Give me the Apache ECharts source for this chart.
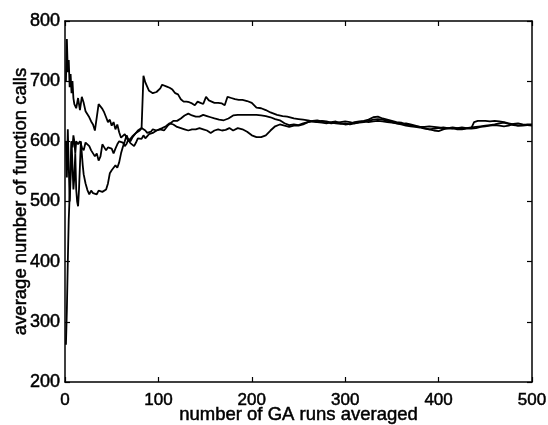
<!DOCTYPE html>
<html>
<head>
<meta charset="utf-8">
<script src="https://cdn.jsdelivr.net/npm/echarts@6/dist/echarts.min.js"></script>
<style>
html,body{margin:0;padding:0;background:#fff;}
#chart{width:548px;height:425px;}
</style>
</head>
<body>
<div id="chart"></div>
<script>
// Axis ticks
var xTicks = [0, 100, 200, 300, 400, 500];
var yTicks = [200, 300, 400, 500, 600, 700, 800];
var xTitle = 'number of GA runs averaged';
var yTitle = 'average number of function calls';

// Run 1: high start, jump near run 84
var runA = [[1,700],[2,770],[3,715],[4,735],[5,690],[6,712],[7,680],[8,700],[9,672],[10,662],[12,655],[14,672],[16,652],[18,674],[20,664],[22,650],[24,647],[26,640],[28,633],[30,628],[32,618],[34,640],[36,662],[38,660],[40,654],[42,648],[44,640],[46,632],[48,636],[50,626],[52,632],[54,620],[56,628],[58,615],[60,606],[62,604],[64,612],[66,606],[68,600],[70,604],[72,608],[74,605],[76,614],[78,612],[80,618],[82,622],[83,621],[84,709],[86,698],[88,691],[90,684],[92,681],[94,680],[96,680],[98,682],[100,680],[102,688],[104,694],[106,692],[109,691],[112,689],[115,686],[118,680],[121,678],[124,670],[127,666],[130,666],[133,665],[136,663],[139,660],[142,666],[145,664],[148,662],[151,674],[154,668],[157,666],[160,664],[164,664],[168,663],[171,660],[174,674],[178,672],[182,670],[186,669],[190,669],[195,667],[200,664],[205,656],[210,655],[215,652],[220,648],[227,644],[233,642],[238,641],[245,638],[250,637],[255,636],[260,635],[265,633],[270,632],[275,631],[280,630],[285,632],[290,633],[295,630],[300,628],[305,629],[310,632],[315,633],[320,634],[325,636],[330,640],[335,641],[340,638],[345,636],[350,634],[355,632],[360,631],[365,628],[370,627],[375,625],[380,624],[385,624],[390,625],[395,624],[400,623],[405,622],[410,621],[415,622],[420,620],[425,620],[430,621],[435,622],[438,632],[442,634],[446,634],[450,634],[455,633],[460,634],[465,633],[470,632],[475,630],[480,628],[485,626],[490,626],[495,627],[500,627]];

// Run 2: low start, middle band
var runB = [[1,262],[2,320],[3,400],[4,470],[5,510],[6,560],[7,600],[8,590],[9,610],[10,600],[11,580],[12,600],[14,595],[16,600],[18,590],[20,585],[22,598],[24,600],[26,592],[28,585],[30,582],[32,575],[34,580],[36,568],[38,575],[40,595],[42,590],[44,585],[46,590],[48,593],[50,588],[52,580],[54,588],[56,595],[58,600],[60,602],[62,598],[64,592],[66,596],[68,604],[70,600],[72,606],[74,610],[76,612],[78,618],[80,620],[82,622],[84,624],[86,618],[88,614],[90,612],[92,616],[94,620],[96,622],[98,618],[100,616],[102,620],[104,622],[106,618],[108,620],[110,626],[113,630],[116,634],[120,634],[124,638],[128,643],[132,646],[136,643],[140,641],[144,641],[148,644],[152,642],[156,640],[160,638],[165,636],[170,635],[175,638],[180,643],[185,644],[190,644],[195,644],[200,644],[205,644],[210,643],[215,642],[220,640],[225,637],[230,635],[235,630],[240,627],[245,628],[250,627],[255,630],[260,632],[265,633],[270,632],[275,634],[280,633],[285,631],[290,630],[295,629],[300,630],[305,628],[310,630],[315,632],[320,633],[325,632],[330,633],[335,634],[340,633],[345,632],[350,631],[355,630],[360,629],[365,630],[370,628],[375,626],[380,624],[385,622],[390,620],[395,618],[400,617],[405,620],[410,622],[415,623],[420,622],[425,621],[430,622],[435,623],[440,624],[445,625],[450,626],[455,627],[460,628],[465,630],[470,631],[475,629],[480,627],[485,626],[490,627],[495,628],[500,628]];

// Run 3: dips to ~515, then rises
var runC = [[1,600],[2,540],[3,620],[4,560],[5,500],[6,540],[7,600],[8,560],[9,520],[10,540],[11,580],[12,520],[13,500],[14,492],[15,520],[16,560],[17,600],[18,580],[19,560],[20,545],[22,530],[24,519],[26,512],[28,518],[30,514],[32,516],[34,512],[36,518],[38,515],[40,516],[42,514],[44,520],[46,530],[48,547],[50,552],[52,556],[54,560],[56,556],[58,565],[60,580],[62,591],[64,600],[66,610],[68,602],[70,597],[72,600],[74,592],[76,598],[78,605],[80,608],[82,604],[84,610],[86,605],[88,608],[90,612],[92,610],[94,614],[96,616],[98,618],[100,620],[104,622],[108,625],[112,630],[116,628],[120,624],[124,622],[128,620],[132,618],[136,620],[140,620],[144,622],[148,620],[152,618],[156,614],[160,618],[164,620],[168,618],[172,619],[176,622],[180,618],[185,622],[190,620],[195,616],[200,610],[205,607],[210,607],[215,610],[220,618],[225,625],[230,628],[235,626],[240,624],[245,626],[250,626],[255,628],[260,632],[265,634],[270,635],[275,633],[280,632],[285,630],[290,631],[295,632],[300,633],[305,632],[310,630],[315,631],[320,632],[325,634],[330,636],[335,637],[340,636],[345,634],[350,632],[355,630],[360,628],[365,626],[370,625],[375,624],[380,623],[385,621],[390,620],[395,621],[400,622],[405,623],[410,622],[415,621],[420,622],[425,623],[430,622],[435,621],[440,622],[445,624],[450,625],[455,626],[460,627],[465,626],[470,625],[475,626],[480,629],[485,630],[490,628],[495,627],[500,626]];

var FONT = 'Liberation Sans';
var chart = echarts.init(document.getElementById('chart'), null, {renderer: 'canvas'});

function mkSeries(d) {
  return {type: 'line', data: d, showSymbol: false, symbol: 'none', xAxisIndex: 0, yAxisIndex: 0,
    lineStyle: {color: '#000', width: 1.8}, animation: false};
}

function txt(size) {
  return {color: '#000', fontFamily: FONT, fontSize: size, textBorderColor: '#000', textBorderWidth: 0.5};
}

chart.setOption({
  animation: false,
  backgroundColor: '#fff',
  grid: {left: 65, right: 16, top: 21, bottom: 43, containLabel: false, outerBoundsMode: 'none'},
  xAxis: [{
    type: 'value', min: xTicks[0], max: xTicks[xTicks.length - 1], interval: 100,
    name: xTitle, nameLocation: 'middle', nameGap: 23, nameMoveOverlap: false,
    nameTextStyle: txt(18.5),
    axisLine: {show: true, onZero: false, lineStyle: {color: '#000', width: 1.5}},
    axisTick: {show: true, inside: true, length: 5, lineStyle: {color: '#000', width: 1.2}},
    axisLabel: Object.assign({margin: 10}, txt(17)),
    splitLine: {show: false}
  }, {
    type: 'value', position: 'top', min: xTicks[0], max: xTicks[xTicks.length - 1], interval: 100,
    axisLine: {show: true, onZero: false, lineStyle: {color: '#000', width: 1.5}},
    axisTick: {show: true, inside: true, length: 5, lineStyle: {color: '#000', width: 1.2}},
    axisLabel: {show: false}, splitLine: {show: false}
  }],
  yAxis: [{
    type: 'value', min: yTicks[0], max: yTicks[yTicks.length - 1], interval: 100,
    name: yTitle, nameLocation: 'middle', nameGap: 35, nameMoveOverlap: false,
    nameTextStyle: txt(18.5),
    axisLine: {show: true, onZero: false, lineStyle: {color: '#000', width: 1.5}},
    axisTick: {show: true, inside: true, length: 5, lineStyle: {color: '#000', width: 1.2}},
    axisLabel: Object.assign({margin: 5}, txt(18)),
    splitLine: {show: false}
  }, {
    type: 'value', position: 'right', min: yTicks[0], max: yTicks[yTicks.length - 1], interval: 100,
    axisLine: {show: true, onZero: false, lineStyle: {color: '#000', width: 1.5}},
    axisTick: {show: true, inside: true, length: 5, lineStyle: {color: '#000', width: 1.2}},
    axisLabel: {show: false}, splitLine: {show: false}
  }],
  series: [mkSeries(runA), mkSeries(runB), mkSeries(runC)]
});
</script>
</body>
</html>
